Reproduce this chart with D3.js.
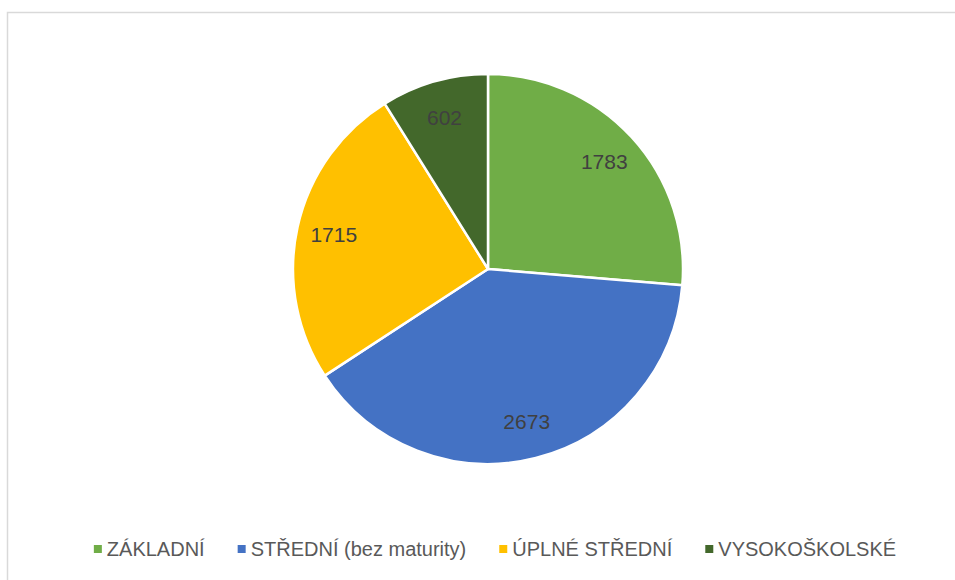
<!DOCTYPE html>
<html lang="cs">
<head>
  <meta charset="UTF-8">
  <title>Vzdělání</title>
  <style>
    body { margin: 0; background: #fff; font-family: "Liberation Sans", Arial, sans-serif; }
  </style>
  <script src="https://cdn.jsdelivr.net/npm/d3@7"></script>
</head>
<body>
  <script>
    var categories = ["ZÁKLADNÍ", "STŘEDNÍ (bez maturity)", "ÚPLNÉ STŘEDNÍ", "VYSOKOŠKOLSKÉ"];
    var values = [1783, 2673, 1715, 602];
    var colors = ["#70ad47", "#4472c4", "#ffc000", "#43682b"];

    var W = 955, H = 580;
    var cx = 488, cy = 269, r = 195;

    var svg = d3.select("body").append("svg").attr("width", W).attr("height", H);

    // chart frame (runs off the right and bottom edge in the original)
    svg.append("rect")
      .attr("x", 7.5).attr("y", 12.5)
      .attr("width", W + 20).attr("height", H + 20)
      .attr("fill", "none")
      .attr("stroke", "#d9d9d9")
      .attr("stroke-width", 1.5);

    var data = categories.map(function(c, i) { return { name: c, value: values[i], color: colors[i] }; });

    var pie = d3.pie().sort(null).value(function(d) { return d.value; });
    var arc = d3.arc().innerRadius(0).outerRadius(r);
    var labelArc = d3.arc().innerRadius(r * 0.81).outerRadius(r * 0.81);

    var g = svg.append("g").attr("transform", "translate(" + cx + "," + cy + ")");

    var slices = pie(data);

    g.selectAll("path")
      .data(slices)
      .enter()
      .append("path")
      .attr("d", arc)
      .attr("fill", function(d) { return d.data.color; })
      .attr("stroke", "#fff")
      .attr("stroke-width", 2.5)
      .attr("stroke-linejoin", "round");

    g.selectAll("text.lbl")
      .data(slices)
      .enter()
      .append("text")
      .attr("class", "lbl")
      .attr("transform", function(d) { return "translate(" + labelArc.centroid(d) + ")"; })
      .attr("text-anchor", "middle")
      .attr("dy", "0.35em")
      .style("font-size", "21px")
      .style("fill", "#404040")
      .text(function(d) { return d.data.value; });

    // legend, centred under the pie
    var legend = svg.append("g").attr("transform", "translate(0,549)");
    var items = legend.selectAll("g")
      .data(data)
      .enter()
      .append("g");

    items.append("rect")
      .attr("width", 8).attr("height", 8)
      .attr("y", -4)
      .attr("fill", function(d) { return d.color; });

    items.append("text")
      .attr("x", 13)
      .attr("dy", "0.35em")
      .style("font-size", "20px")
      .style("fill", "#595959")
      .text(function(d) { return d.name; });

    var gap = 33, x = 0, widths = [];
    items.each(function() {
      widths.push(13 + d3.select(this).select("text").node().getComputedTextLength());
    });
    var total = d3.sum(widths) + gap * (widths.length - 1);
    x = 495 - total / 2;
    items.attr("transform", function(d, i) {
      var t = "translate(" + x + ",0)";
      x += widths[i] + gap;
      return t;
    });
  </script>
</body>
</html>
